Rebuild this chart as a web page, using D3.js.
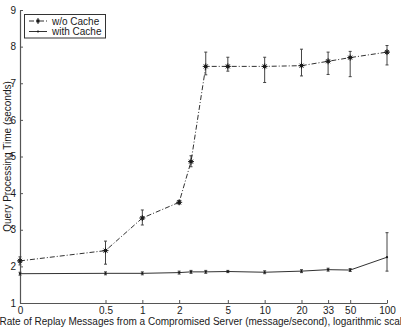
<!DOCTYPE html>
<html>
<head>
<meta charset="utf-8">
<script src="https://cdn.jsdelivr.net/npm/d3@7/dist/d3.min.js"></script>
<style>
  html, body { margin: 0; padding: 0; background: #fff; }
  svg { display: block; font-family: "Liberation Sans", Arial, Helvetica, sans-serif; }
</style>
</head>
<body>
<svg id="chart" width="401" height="327"></svg>
<script>
// ---- data ----
const rates = [0, 0.5, 1, 2, 2.5, 3.3, 5, 10, 20, 33, 50, 100];
const noCacheMean  = [2.15, 2.43, 3.32, 3.75, 4.86, 7.46, 7.46, 7.46, 7.48, 7.60, 7.70, 7.85];
const noCacheLow   = [2.04, 2.06, 3.13, 3.70, 4.72, 7.23, 7.33, 7.02, 7.20, 7.24, 7.18, 7.50];
const noCacheHigh  = [2.26, 2.69, 3.54, 3.80, 5.02, 7.85, 7.71, 7.71, 7.93, 7.85, 7.87, 8.03];
const cacheMean    = [1.80, 1.81, 1.81, 1.83, 1.85, 1.85, 1.86, 1.84, 1.87, 1.91, 1.90, 2.25];
const cacheLow     = [1.76, 1.77, 1.77, 1.79, 1.81, 1.81, 1.83, 1.80, 1.83, 1.87, 1.86, 1.87];
const cacheHigh    = [1.84, 1.85, 1.85, 1.87, 1.89, 1.89, 1.89, 1.88, 1.91, 1.95, 1.94, 2.92];
const xTickValues  = [0, 0.5, 1, 2, 5, 10, 20, 33, 50, 100];
const xTickLabels  = ["0", "0.5", "1", "2", "5", "10", "20", "33", "50", "100"];
const yTickValues  = [1, 2, 3, 4, 5, 6, 7, 8, 9];
const seriesNames  = ["w/o Cache", "with Cache"];
const xTitle = "Rate of Replay Messages from a Compromised Server (message/second), logarithmic scale";
const yTitle = "Query Processing Time (seconds)";

(function () {
// ---- layout ----
const svg = d3.select("#chart");
const mLeft = 20, mRight = 387, mTop = 10, mBottom = 303;
const ZERO_POS = 0.1; // "0" is drawn at the 0.1 position of the log axis
const xs = d3.scaleLog().domain([ZERO_POS, 100]).range([mLeft, mRight]);
const xp = v => xs(v === 0 ? ZERO_POS : v);
const y = d3.scaleLinear().domain([1, 9]).range([mBottom, mTop]);

const ink = "#1a1a1a";
const axisColor = "#555";

// axes
const xAxis = svg.append("g").attr("transform", `translate(0,${mBottom})`)
  .call(d3.axisBottom(xs).tickValues(xTickValues.map(v => v === 0 ? ZERO_POS : v))
    .tickFormat((d, i) => xTickLabels[i]).tickSizeInner(-3).tickSizeOuter(0).tickPadding(4));
const yAxis = svg.append("g").attr("transform", `translate(${mLeft},0)`)
  .call(d3.axisLeft(y).tickValues(yTickValues).tickFormat(d3.format("d"))
    .tickSizeInner(-3).tickSizeOuter(0).tickPadding(4));
[xAxis, yAxis].forEach(g => {
  g.select(".domain").attr("stroke", axisColor).attr("stroke-width", 1.2);
  g.selectAll(".tick line").attr("stroke", axisColor);
  g.selectAll(".tick text").attr("fill", ink).attr("font-size", 10)
    .attr("font-family", "Liberation Sans, Arial, sans-serif");
});

// titles
svg.append("text").attr("x", (mLeft + mRight) / 2).attr("y", 325)
  .attr("text-anchor", "middle").attr("font-size", 10).attr("fill", ink).text(xTitle);
svg.append("text").attr("transform", `translate(7,${(mTop + mBottom) / 2}) rotate(-90)`)
  .attr("text-anchor", "middle").attr("dominant-baseline", "central")
  .attr("font-size", 10).attr("fill", ink).text(yTitle);

// series
const series = [
  { mean: noCacheMean, low: noCacheLow, high: noCacheHigh, dash: "5,2,1,2", marker: "star" },
  { mean: cacheMean, low: cacheLow, high: cacheHigh, dash: null, marker: "dot" }
];

const line = d3.line().x(d => xp(d.r)).y(d => y(d.m));

series.forEach(s => {
  const pts = rates.map((r, i) => ({ r, m: s.mean[i], lo: s.low[i], hi: s.high[i] }));
  const g = svg.append("g");
  pts.forEach(p => {
    const cx = xp(p.r);
    g.append("line").attr("x1", cx).attr("x2", cx).attr("y1", y(p.lo)).attr("y2", y(p.hi))
      .attr("stroke", "#444").attr("stroke-width", 1);
    [p.lo, p.hi].forEach(v => {
      g.append("line").attr("x1", cx - 1.5).attr("x2", cx + 1.5).attr("y1", y(v)).attr("y2", y(v))
        .attr("stroke", "#444").attr("stroke-width", 1);
    });
  });
  g.append("path").datum(pts).attr("d", line).attr("fill", "none")
    .attr("stroke", ink).attr("stroke-width", 0.9)
    .attr("stroke-dasharray", s.dash);
  pts.forEach(p => {
    const cx = xp(p.r), cy = y(p.m);
    if (s.marker === "star") {
      g.append("path").attr("d", `M${cx-3},${cy}H${cx+3}M${cx},${cy-3}V${cy+3}M${cx-2},${cy-2}L${cx+2},${cy+2}M${cx-2},${cy+2}L${cx+2},${cy-2}`)
        .attr("stroke", ink).attr("stroke-width", 1);
      g.append("rect").attr("x", cx - 1.5).attr("y", cy - 1.5).attr("width", 3).attr("height", 3).attr("fill", ink);
    } else {
      g.append("circle").attr("cx", cx).attr("cy", cy).attr("r", 1.1).attr("fill", ink);
    }
  });
});

// legend
const lg = svg.append("g");
lg.append("rect").attr("x", 24.5).attr("y", 14.5).attr("width", 81).attr("height", 23.5)
  .attr("fill", "#fff").attr("stroke", "#333").attr("stroke-width", 1);
seriesNames.forEach((name, i) => {
  const ly = 21 + i * 10.5;
  lg.append("line").attr("x1", 29).attr("x2", 47).attr("y1", ly).attr("y2", ly)
    .attr("stroke", ink).attr("stroke-width", 0.9)
    .attr("stroke-dasharray", series[i].dash);
  if (series[i].marker === "star") {
    lg.append("rect").attr("x", 38 - 1.5).attr("y", ly - 1.5).attr("width", 3).attr("height", 3).attr("fill", ink);
    lg.append("path").attr("d", `M${38},${ly-3}V${ly+3}`).attr("stroke", ink);
  } else {
    lg.append("circle").attr("cx", 38).attr("cy", ly).attr("r", 1.1).attr("fill", ink);
  }
  lg.append("text").attr("x", 52).attr("y", ly).attr("dominant-baseline", "central")
    .attr("font-size", 10).attr("fill", ink).text(name);
});
})();
</script>
</body>
</html>
